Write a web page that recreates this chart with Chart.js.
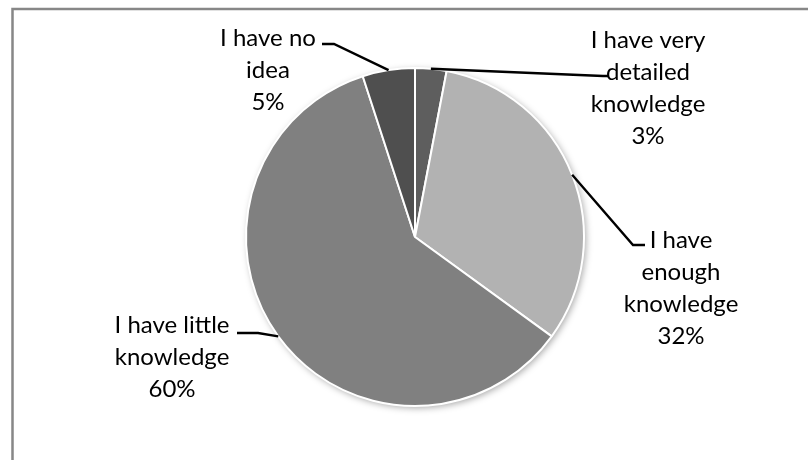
<!DOCTYPE html>
<html>
<head>
<meta charset="utf-8">
<script src="https://cdn.jsdelivr.net/npm/chart.js@4/dist/chart.umd.min.js"></script>
<style>
  html, body { margin: 0; padding: 0; background: #fff; }
  #wrap { width: 808px; height: 460px; }
</style>
</head>
<body>
<div id="wrap"><canvas id="knowledgePie"></canvas></div>
<script>
const categories = [
  ["I have very", "detailed", "knowledge"],
  ["I have", "enough", "knowledge"],
  ["I have little", "knowledge"],
  ["I have no", "idea"],
];
const shares = [3, 32, 60, 5];
const sliceColors = ["#5e5e5e", "#b2b2b2", "#808080", "#4f4f4f"];

// where each label block sits and how its leader line bends
const labelLayout = [
  { x: 648, y: 40, elbow: [603, 76], end: [609, 76] },
  { x: 681, y: 240, elbow: [633, 245], end: [645, 245] },
  { x: 172, y: 325, elbow: [258, 333], end: [237, 333] },
  { x: 268, y: 38, elbow: [334, 44], end: [322, 44] },
];

const FONT = "24px Lato";
const LINE_H = 32;

const framePlugin = {
  id: "frame",
  beforeDraw(chart) {
    const c = chart.ctx;
    c.save();
    c.fillStyle = "#fff";
    c.fillRect(0, 0, chart.width, chart.height);
    c.strokeStyle = "#878787";
    c.beginPath();
    c.moveTo(chart.width + 5, 9);
    c.lineTo(12.5, 9);
    c.lineTo(12.5, chart.height + 5);
    c.lineWidth = 2.5;
    c.stroke();
    c.restore();
  },
};

const shadowPlugin = {
  id: "pieShadow",
  beforeDatasetsDraw(chart) {
    const arc = chart.getDatasetMeta(0).data[0];
    if (!arc) return;
    const c = chart.ctx;
    c.save();
    c.shadowColor = "rgba(0,0,0,0.35)";
    c.shadowBlur = 7;
    c.shadowOffsetX = 2;
    c.shadowOffsetY = 2;
    c.fillStyle = "#999";
    c.beginPath();
    c.arc(arc.x, arc.y, arc.outerRadius, 0, Math.PI * 2);
    c.fill();
    c.restore();
  },
};

const labelPlugin = {
  id: "leaderLabels",
  afterDatasetsDraw(chart) {
    const meta = chart.getDatasetMeta(0);
    const c = chart.ctx;
    c.save();
    meta.data.forEach((arc, i) => {
      const lay = labelLayout[i];
      const mid = (arc.startAngle + arc.endAngle) / 2;
      const px = arc.x + Math.cos(mid) * arc.outerRadius;
      const py = arc.y + Math.sin(mid) * arc.outerRadius;
      c.strokeStyle = "#000";
      c.lineWidth = 2.4;
      c.beginPath();
      c.moveTo(px, py);
      c.lineTo(lay.elbow[0], lay.elbow[1]);
      c.lineTo(lay.end[0], lay.end[1]);
      c.stroke();

      const lines = categories[i].concat([shares[i] + "%"]);
      c.fillStyle = "#000";
      c.font = FONT;
      c.textAlign = "center";
      c.textBaseline = "middle";
      lines.forEach((t, k) => c.fillText(t, lay.x, lay.y + k * LINE_H));
    });
    c.restore();
  },
};

new Chart(document.getElementById("knowledgePie"), {
  type: "pie",
  data: {
    labels: categories.map((l) => l.join(" ")),
    datasets: [
      {
        data: shares,
        backgroundColor: sliceColors,
        borderColor: "#fff",
        borderWidth: 2,
        hoverOffset: 0,
      },
    ],
  },
  options: {
    responsive: true,
    maintainAspectRatio: false,
    animation: false,
    layout: {
      padding: { top: 67, bottom: 53, left: 245, right: 223 },
    },
    plugins: {
      legend: { display: false },
      tooltip: { enabled: false },
    },
  },
  plugins: [framePlugin, shadowPlugin, labelPlugin],
});
</script>
</body>
</html>
